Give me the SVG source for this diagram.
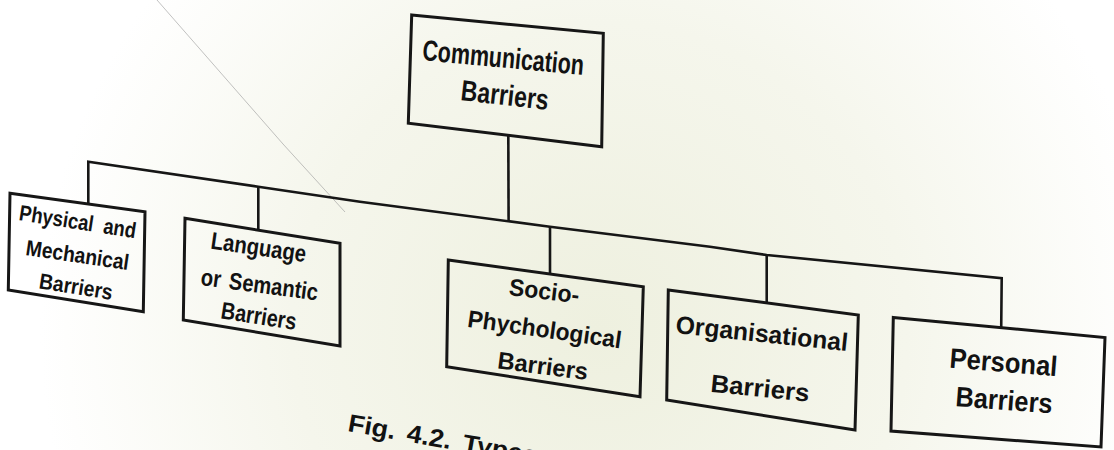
<svg xmlns="http://www.w3.org/2000/svg" width="1114" height="450" viewBox="0 0 1114 450">
  <defs>
    <radialGradient id="paper" cx="600" cy="330" r="560" gradientUnits="userSpaceOnUse">
      <stop offset="0" stop-color="#eef0df"/>
      <stop offset="0.55" stop-color="#f5f6ec"/>
      <stop offset="1" stop-color="#ffffff"/>
    </radialGradient>
  </defs>
  <style>
    .box { fill: none; stroke: #161616; stroke-width: 3; stroke-linejoin: miter; }
    .conn { fill: none; stroke: #161616; stroke-width: 2.6; stroke-linejoin: miter; }
    .lbl { font-family: "Liberation Sans", Arial, sans-serif; font-weight: bold; fill: #121212; }
    .crease { fill: none; stroke: #9a9a9a; stroke-width: 1; opacity: 0.6; }
  </style>
  <rect x="0" y="0" width="1114" height="450" fill="url(#paper)"/>
  <path class="crease" d="M157,0 L283,144 L345,212"/>

  <g id="connectors">
    <path class="conn" d="M508.3,135 L508.6,221"/>
    <path class="conn" d="M88.3,204 L88.3,161.7 L258.3,186.7 L360,201.7 L550,226.7 L710,246.7 L766.7,255 L1001.7,278.3 L1001.2,328"/>
    <path class="conn" d="M258.3,186.7 L258.3,230"/>
    <path class="conn" d="M550,226.7 L550,274"/>
    <path class="conn" d="M766.7,255 L766.7,303"/>
  </g>

  <g id="node-communication">
    <polygon class="box" points="411.7,15 603.3,33.3 601.7,146.7 408.3,123.3"/>
    <text class="lbl" font-size="29" textLength="162" lengthAdjust="spacingAndGlyphs" transform="translate(421.7,60) rotate(5.3)">Communication</text>
    <text class="lbl" font-size="29" textLength="88" lengthAdjust="spacingAndGlyphs" transform="translate(460,100) rotate(6.5)">Barriers</text>
  </g>

  <g id="node-physical">
    <polygon class="box" points="10,193.3 145,211.7 143.3,311.7 8.3,290"/>
    <text class="lbl" font-size="22" word-spacing="6" textLength="118" lengthAdjust="spacingAndGlyphs" transform="translate(18.3,220) rotate(8.9)">Physical and</text>
    <text class="lbl" font-size="22" textLength="104" lengthAdjust="spacingAndGlyphs" transform="translate(25,255) rotate(8.3)">Mechanical</text>
    <text class="lbl" font-size="22" textLength="74" lengthAdjust="spacingAndGlyphs" transform="translate(38.3,288.3) rotate(9)">Barriers</text>
  </g>

  <g id="node-language">
    <polygon class="box" points="185,218.3 340,243.3 340,346 183.3,320"/>
    <text class="lbl" font-size="24" textLength="96" lengthAdjust="spacingAndGlyphs" transform="translate(210,248.5) rotate(8.2)">Language</text>
    <text class="lbl" font-size="24" word-spacing="3" textLength="118" lengthAdjust="spacingAndGlyphs" transform="translate(200,285) rotate(7.5)">or Semantic</text>
    <text class="lbl" font-size="24" textLength="76" lengthAdjust="spacingAndGlyphs" transform="translate(220,318.3) rotate(8.8)">Barriers</text>
  </g>

  <g id="node-socio">
    <polygon class="box" points="448.3,260 643.3,286.7 640,396.7 446.7,366.7"/>
    <text class="lbl" font-size="24" textLength="70.5" lengthAdjust="spacingAndGlyphs" transform="translate(508.3,295) rotate(6.8)">Socio-</text>
    <text class="lbl" font-size="24" textLength="155" lengthAdjust="spacingAndGlyphs" transform="translate(466.7,326.7) rotate(8)">Phychological</text>
    <text class="lbl" font-size="24" textLength="91" lengthAdjust="spacingAndGlyphs" transform="translate(496.7,368.3) rotate(7.4)">Barriers</text>
  </g>

  <g id="node-organisational">
    <polygon class="box" points="668.3,290 858.3,315 855,430 666.7,400"/>
    <text class="lbl" font-size="25" textLength="173" lengthAdjust="spacingAndGlyphs" transform="translate(675,333) rotate(6)">Organisational</text>
    <text class="lbl" font-size="25" textLength="99" lengthAdjust="spacingAndGlyphs" transform="translate(710,391.7) rotate(5.8)">Barriers</text>
  </g>

  <g id="node-personal">
    <polygon class="box" points="893.3,317.5 1105,337.5 1101,447 891,431"/>
    <text class="lbl" font-size="28" textLength="108" lengthAdjust="spacingAndGlyphs" transform="translate(949,367.5) rotate(4.6)">Personal</text>
    <text class="lbl" font-size="28" textLength="97" lengthAdjust="spacingAndGlyphs" transform="translate(955,406) rotate(4.4)">Barriers</text>
  </g>

  <g id="caption">
    <text class="lbl" font-size="25" word-spacing="4" textLength="192" lengthAdjust="spacingAndGlyphs" transform="translate(347,431) rotate(10)">Fig. 4.2. Types</text>
  </g>
</svg>
